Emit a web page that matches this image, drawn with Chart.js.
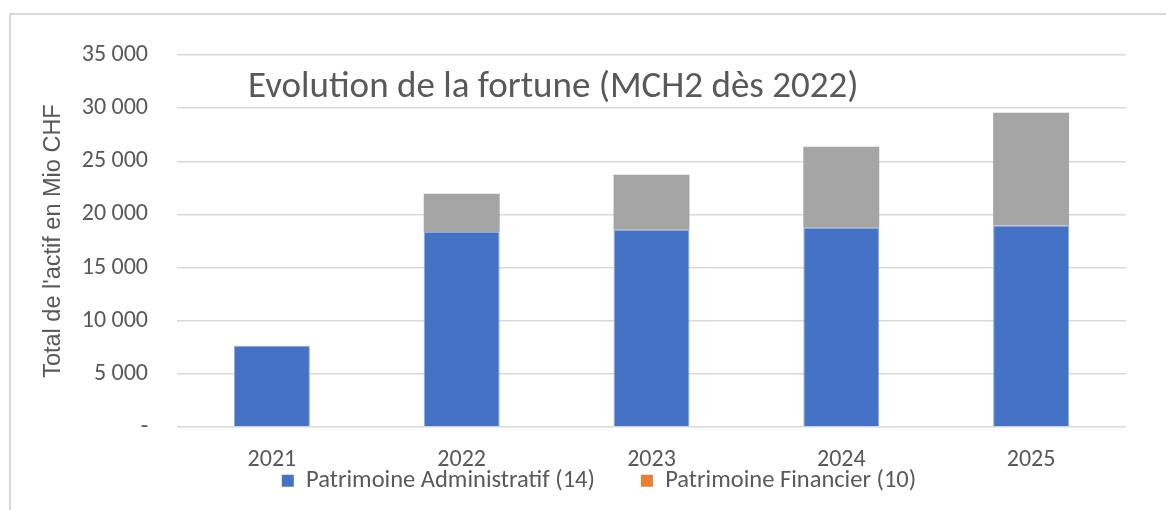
<!DOCTYPE html>
<html>
<head>
<meta charset="utf-8">
<script src="https://cdn.jsdelivr.net/npm/chart.js@4"></script>
<style>
  html, body { margin: 0; padding: 0; background: #fff; }
  #wrap { position: relative; width: 1166px; height: 510px; overflow: hidden; }
  #frame { position: absolute; left: 9px; top: 13px; width: 1200px; height: 600px;
           border-left: 2px solid #d9d9d9; border-top: 2px solid #d9d9d9; }
  #myChart { position: absolute; left: 0; top: 0; }
</style>
</head>
<body>
<div id="wrap">
  <div id="frame"></div>
  <canvas id="myChart" width="1166" height="510"></canvas>
</div>
<script>
const years = ['2021', '2022', '2023', '2024', '2025'];
const patrimoineAdmin = [7650, 18340, 18560, 18750, 18970];
const patrimoineFin = [0, 3610, 5170, 7620, 10600];
const yTicks = [0, 5000, 10000, 15000, 20000, 25000, 30000, 35000];

const font = 'Carlito, Calibri, "Open Sans", sans-serif';
const txt = '#595959';

// titre dans la zone du graphique
const titlePlugin = {
    id: 'innerTitle',
    afterDraw(chart) {
        const c = chart.ctx;
        const a = chart.chartArea;
        c.save();
        c.font = '37px ' + font;
        c.fillStyle = txt;
        c.textBaseline = 'alphabetic';
        c.fillText('Evolution de la fortune (MCH2 dès 2022)', a.left + 71, a.top + 42);
        c.restore();
    }
};

// remonte la légende juste sous les années
const legendShift = {
    id: 'legendShift',
    afterLayout(chart) {
        const l = chart.legend;
        l.top -= 50;
        l.bottom -= 50;
        l.left += 36;
        l.right += 36;
    }
};

const ctx = document.getElementById('myChart');
new Chart(ctx, {
    type: 'bar',
    data: {
        labels: years,
        datasets: [{
            label: 'Patrimoine Administratif (14)',
            data: patrimoineAdmin,
            backgroundColor: '#4472c4',
            borderColor: '#8faadc',
            borderWidth: 1
        }, {
            label: 'Patrimoine Financier (10)',
            data: patrimoineFin,
            backgroundColor: '#a5a5a5',
            borderWidth: 0
        }]
    },
    options: {
        responsive: false,
        animation: false,
        devicePixelRatio: 1,
        categoryPercentage: 1,
        barPercentage: 0.4,
        layout: { padding: { top: 55, right: 40, bottom: -43, left: 0 } },
        scales: {
            x: {
                stacked: true,
                grid: { display: false },
                border: { display: false },
                ticks: { color: txt, font: { family: font, size: 24 }, padding: 10.6 },
                afterFit(scale) { scale.height = 45.4; }
            },
            y: {
                stacked: true,
                min: 0,
                max: 35000,
                afterBuildTicks(scale) { scale.ticks = yTicks.map(v => ({ value: v })); },
                afterFit(scale) { scale.width = 177; },
                grid: { color: '#d9d9d9', lineWidth: 1.5, drawTicks: false },
                border: { display: false },
                ticks: {
                    color: txt,
                    padding: 29,
                    font: { family: font, size: 24 },
                    callback: v => v === 0 ? '-' : String(v).replace(/\B(?=(\d{3})+(?!\d))/g, ' ')
                },
                title: {
                    display: true,
                    text: "Total de l'actif en Mio CHF",
                    color: txt,
                    font: { family: '"Liberation Sans", Arial, sans-serif', size: 23.5 },
                    padding: { top: 39.5, bottom: 0 }
                }
            }
        },
        plugins: {
            legend: {
                position: 'bottom',
                labels: {
                    color: txt,
                    font: { family: font, size: 24.5 },
                    boxWidth: 12,
                    boxHeight: 12,
                    padding: 46,
                    generateLabels(chart) {
                        const items = Chart.defaults.plugins.legend.labels.generateLabels(chart);
                        items.forEach(it => { it.lineWidth = 0; });
                        items[1].fillStyle = '#ed7d31';
                        return items;
                    }
                }
            },
            tooltip: { enabled: false }
        }
    },
    plugins: [titlePlugin, legendShift]
});
</script>
</body>
</html>
